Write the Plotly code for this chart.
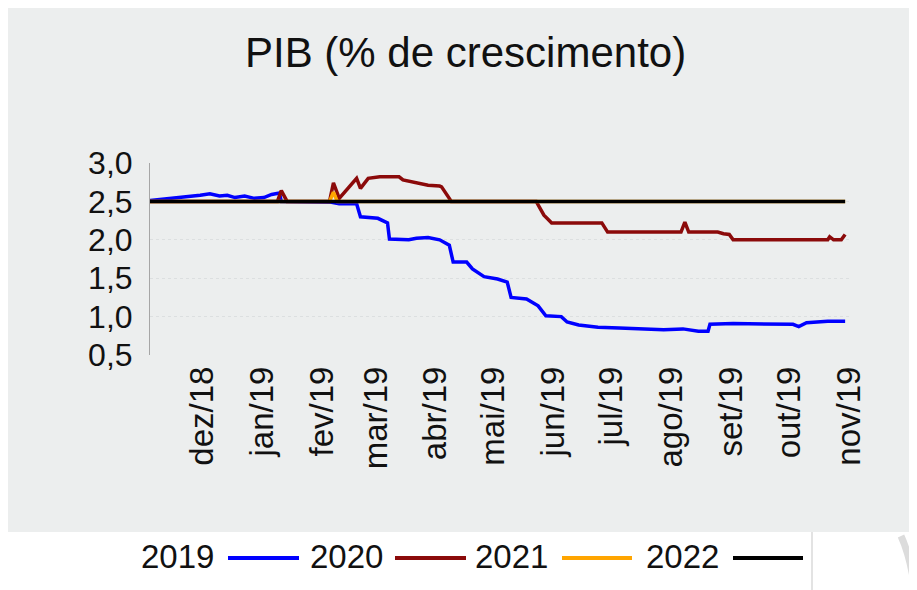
import plotly.graph_objects as go

# ---------------- data ----------------
series_names = ["2019", "2020", "2021", "2022"]
series_colors = ["#0000ff", "#8b0a0a", "#ffa500", "#000000"]

dates_2019 = ["2018-11-04", "2018-11-12", "2018-11-22", "2018-11-30", "2018-12-05", "2018-12-10",
              "2018-12-14", "2018-12-18", "2018-12-23", "2018-12-28", "2019-01-02", "2019-01-06",
              "2019-01-10", "2019-01-11", "2019-02-06", "2019-02-10", "2019-02-19", "2019-02-21",
              "2019-03-02", "2019-03-07", "2019-03-08", "2019-03-18", "2019-03-22", "2019-03-28",
              "2019-04-03", "2019-04-08", "2019-04-10", "2019-04-17", "2019-04-20", "2019-04-26",
              "2019-05-03", "2019-05-08", "2019-05-10", "2019-05-18", "2019-05-24", "2019-05-28",
              "2019-06-05", "2019-06-08", "2019-06-14", "2019-06-24", "2019-07-05", "2019-07-15",
              "2019-07-28", "2019-08-07", "2019-08-15", "2019-08-20", "2019-08-21", "2019-09-02",
              "2019-10-03", "2019-10-06", "2019-10-10", "2019-10-21", "2019-10-30"]
pib_2019 = [2.51, 2.53, 2.55, 2.58, 2.60, 2.57,
            2.58, 2.55, 2.57, 2.54, 2.55, 2.59,
            2.61, 2.50, 2.49, 2.47, 2.47, 2.30,
            2.28, 2.22, 2.01, 2.00, 2.02, 2.03,
            2.00, 1.93, 1.71, 1.71, 1.62, 1.52,
            1.49, 1.45, 1.25, 1.23, 1.14, 1.01,
            1.00, 0.93, 0.89, 0.86, 0.85, 0.84,
            0.83, 0.84, 0.81, 0.81, 0.90, 0.91,
            0.90, 0.87, 0.92, 0.94, 0.94]

dates_2020 = ["2018-11-04", "2019-01-09", "2019-01-11", "2019-01-14", "2019-02-05", "2019-02-07",
              "2019-02-10", "2019-02-19", "2019-02-21", "2019-02-25", "2019-03-03", "2019-03-13",
              "2019-03-15", "2019-03-21", "2019-03-26", "2019-03-28", "2019-04-03", "2019-04-04",
              "2019-04-08", "2019-04-09", "2019-05-23", "2019-05-27", "2019-05-29", "2019-05-31",
              "2019-06-26", "2019-06-29", "2019-08-06", "2019-08-08", "2019-08-10", "2019-08-25",
              "2019-08-28", "2019-08-31", "2019-09-02", "2019-10-21", "2019-10-22", "2019-10-24",
              "2019-10-28", "2019-10-30"]
pib_2020 = [2.50, 2.50, 2.64, 2.50, 2.50, 2.74,
            2.54, 2.80, 2.67, 2.80, 2.82, 2.82,
            2.78, 2.75, 2.73, 2.71, 2.70, 2.69,
            2.54, 2.50, 2.50, 2.32, 2.27, 2.22,
            2.22, 2.10, 2.10, 2.23, 2.10, 2.10,
            2.08, 2.07, 2.00, 2.00, 2.04, 2.00,
            2.00, 2.07]

dates_2021 = ["2018-11-04", "2019-02-05", "2019-02-07", "2019-02-09", "2019-10-30"]
pib_2021 = [2.50, 2.50, 2.62, 2.50, 2.50]

dates_2022 = ["2018-11-04", "2019-10-30"]
pib_2022 = [2.50, 2.50]

tick_dates = ["2018-12-01", "2019-01-01", "2019-02-01", "2019-03-01", "2019-04-01", "2019-05-01",
              "2019-06-01", "2019-07-01", "2019-08-01", "2019-09-01", "2019-10-01", "2019-11-01"]
tick_labels = ["dez/18", "jan/19", "fev/19", "mar/19", "abr/19", "mai/19",
               "jun/19", "jul/19", "ago/19", "set/19", "out/19", "nov/19"]

title_text = "PIB (% de crescimento)"

# ---------------- figure ----------------
OFF = 8  # page body margin offset
W, H = 917, 590
# target plot area in window pixels: x 150..849, y 163..355
L = 150 - OFF
T = 163 - OFF
R = W - (849 - OFF)
B = H - (355 - OFF)
pw, ph = W - L - R, H - T - B

def px_x(p):
    return (p - OFF - L) / pw

def px_y(p):
    return ((H - B) - (p - OFF)) / ph

BG = "#eceeee"
FONT = "Liberation Sans, Arial, sans-serif"

fig = go.Figure()
all_dates = [dates_2019, dates_2020, dates_2021, dates_2022]
all_vals = [pib_2019, pib_2020, pib_2021, pib_2022]
for name, color, d, v in zip(series_names, series_colors, all_dates, all_vals):
    fig.add_trace(go.Scatter(x=d, y=v, mode="lines", name=name,
                             line=dict(color=color, width=3.5), showlegend=False,
                             hoverinfo="x+y+name"))

shapes = [
    dict(type="rect", xref="paper", yref="paper", layer="below",
         x0=px_x(8), x1=px_x(930), y0=px_y(532), y1=px_y(6),
         fillcolor=BG, line=dict(width=0)),
    dict(type="line", xref="paper", yref="paper",
         x0=px_x(812), x1=px_x(812), y0=px_y(532), y1=px_y(600),
         line=dict(color="#e3e3e3", width=2)),
    dict(type="path", xref="paper", yref="paper",
         path="M %f,%f Q %f,%f %f,%f" % (px_x(901), px_y(536), px_x(912), px_y(560),
                                         px_x(916), px_y(600)),
         line=dict(color="#dcdcdc", width=7)),
]

annotations = [
    dict(text=title_text, xref="paper", yref="paper", x=px_x(465), y=px_y(52),
         xanchor="center", yanchor="middle", showarrow=False,
         font=dict(family=FONT, size=42, color="#111111")),
]

# manual legend: label followed by line sample
legend_text_x = [177, 346, 511, 682]
legend_line_x = [(228, 299), (395, 466), (562, 632), (733, 803)]
legend_y = 556
for name, color, tx, (lx0, lx1) in zip(series_names, series_colors, legend_text_x, legend_line_x):
    annotations.append(dict(text=name, xref="paper", yref="paper", x=px_x(tx), y=px_y(legend_y),
                            xanchor="center", yanchor="middle", showarrow=False,
                            font=dict(family=FONT, size=33, color="#111111")))
    shapes.append(dict(type="line", xref="paper", yref="paper",
                       x0=px_x(lx0), x1=px_x(lx1), y0=px_y(legend_y + 2), y1=px_y(legend_y + 2),
                       line=dict(color=color, width=4)))

fig.update_layout(
    width=W, height=H,
    margin=dict(l=L, r=R, t=T, b=B, pad=0),
    paper_bgcolor="white",
    plot_bgcolor=BG,
    separators=",.",
    shapes=shapes,
    annotations=annotations,
    showlegend=False,
    font=dict(family=FONT, color="#111111"),
)

fig.update_xaxes(
    type="date",
    range=["2018-11-04", "2019-11-01"],
    tickmode="array", tickvals=tick_dates, ticktext=tick_labels,
    tickangle=-90, tickfont=dict(family=FONT, size=33, color="#111111"),
    showgrid=False, zeroline=False, showline=False, ticks="",
    ticklabelstandoff=4,
)

fig.update_yaxes(
    range=[0.5, 3.0], dtick=0.5, tick0=0.5, tickformat=".1f",
    tickfont=dict(family=FONT, size=32, color="#111111"),
    showgrid=True, gridcolor="#dcdfe0", griddash="dot", gridwidth=1,
    zeroline=False, showline=True, linecolor="#a6a6a6", linewidth=1,
    ticks="", ticklabelstandoff=10,
)

fig.write_html("out.html")
